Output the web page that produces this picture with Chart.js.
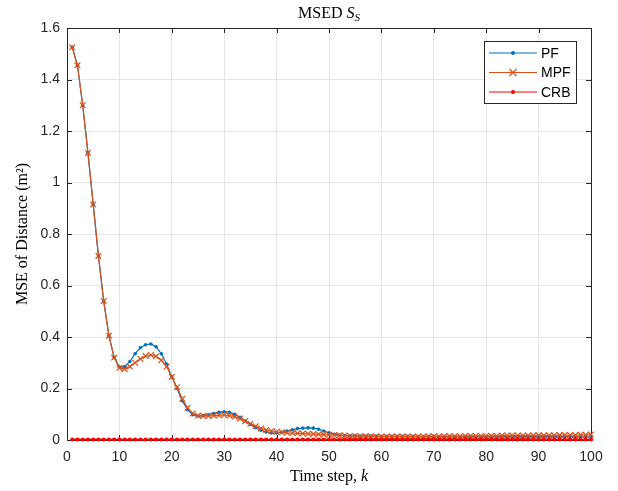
<!DOCTYPE html>
<html>
<head>
<meta charset="utf-8">
<script src="https://cdn.jsdelivr.net/npm/chart.js@4/dist/chart.umd.min.js"></script>
<style>
    html, body { margin: 0; padding: 0; background: #fff; }
    #wrap { width: 618px; height: 491px; }
</style>
</head>
<body>
<div id="wrap"><canvas id="myChart" width="618" height="491"></canvas></div>
<script>
// data
const steps = [];
for (let k = 1; k <= 100; k++) steps.push(k);

const pfValues = [
    1.525, 1.455, 1.300, 1.115, 0.915, 0.715, 0.540, 0.405, 0.320, 0.283,
    0.285, 0.305, 0.335, 0.358, 0.370, 0.373, 0.362, 0.335, 0.295, 0.245,
    0.200, 0.152, 0.118, 0.098, 0.093, 0.095, 0.098, 0.103, 0.108, 0.110,
    0.108, 0.100, 0.088, 0.074, 0.060, 0.048, 0.038, 0.031, 0.027, 0.027,
    0.030, 0.035, 0.040, 0.044, 0.046, 0.047, 0.046, 0.042, 0.035, 0.028,
    0.022, 0.019, 0.017, 0.016, 0.016, 0.015, 0.015, 0.015, 0.015, 0.014,
    0.014, 0.014, 0.014, 0.014, 0.014, 0.014, 0.013, 0.013, 0.013, 0.013,
    0.013, 0.013, 0.013, 0.013, 0.013, 0.013, 0.013, 0.013, 0.013, 0.013,
    0.013, 0.013, 0.013, 0.013, 0.013, 0.013, 0.013, 0.013, 0.013, 0.013,
    0.013, 0.013, 0.013, 0.013, 0.013, 0.013, 0.013, 0.013, 0.013, 0.013
];
const mpfValues = [
    1.525, 1.455, 1.300, 1.115, 0.915, 0.715, 0.540, 0.405, 0.320, 0.280,
    0.275, 0.285, 0.300, 0.315, 0.326, 0.330, 0.325, 0.310, 0.285, 0.245,
    0.205, 0.160, 0.125, 0.103, 0.095, 0.093, 0.093, 0.095, 0.096, 0.097,
    0.095, 0.090, 0.083, 0.073, 0.063, 0.053, 0.045, 0.039, 0.035, 0.032,
    0.030, 0.028, 0.027, 0.026, 0.025, 0.024, 0.023, 0.022, 0.021, 0.020,
    0.019, 0.018, 0.017, 0.016, 0.016, 0.015, 0.015, 0.015, 0.014, 0.014,
    0.014, 0.014, 0.014, 0.014, 0.014, 0.014, 0.014, 0.014, 0.015, 0.015,
    0.015, 0.015, 0.015, 0.015, 0.015, 0.016, 0.016, 0.016, 0.016, 0.016,
    0.016, 0.016, 0.017, 0.017, 0.017, 0.017, 0.017, 0.017, 0.018, 0.018,
    0.018, 0.018, 0.018, 0.019, 0.019, 0.019, 0.019, 0.020, 0.020, 0.021
];
const crbValues = [
    0.002, 0.002, 0.002, 0.002, 0.002, 0.002, 0.002, 0.002, 0.002, 0.002,
    0.002, 0.002, 0.002, 0.002, 0.002, 0.002, 0.002, 0.002, 0.002, 0.002,
    0.002, 0.002, 0.002, 0.002, 0.002, 0.002, 0.002, 0.002, 0.002, 0.002,
    0.002, 0.002, 0.002, 0.002, 0.002, 0.002, 0.002, 0.002, 0.002, 0.002,
    0.002, 0.002, 0.002, 0.002, 0.002, 0.002, 0.002, 0.002, 0.002, 0.002,
    0.002, 0.002, 0.002, 0.002, 0.002, 0.002, 0.002, 0.002, 0.002, 0.002,
    0.002, 0.002, 0.002, 0.002, 0.002, 0.002, 0.002, 0.002, 0.002, 0.002,
    0.002, 0.002, 0.002, 0.002, 0.002, 0.002, 0.002, 0.002, 0.002, 0.002,
    0.002, 0.002, 0.002, 0.002, 0.002, 0.002, 0.002, 0.002, 0.002, 0.002,
    0.002, 0.002, 0.002, 0.002, 0.002, 0.002, 0.002, 0.002, 0.002, 0.002
];
const xTicks = [0, 10, 20, 30, 40, 50, 60, 70, 80, 90, 100];
const yTicks = [0, 0.2, 0.4, 0.6, 0.8, 1, 1.2, 1.4, 1.6];
const seriesNames = ['PF', 'MPF', 'CRB'];

const AXIS = '#262626';
const SERIF = '"Liberation Serif", "DejaVu Serif", serif';
const SANS = '"Liberation Sans", Arial, sans-serif';

function pts(values) {
    return values.map((v, i) => ({ x: steps[i], y: v }));
}

// box, inner ticks, titles and the MATLAB-style legend
const matlabFrame = {
    id: 'matlabFrame',
    beforeDatasetsDraw(chart) {
        // axes box under the data, like MATLAB's red line sitting on the axis
        const ctx = chart.ctx;
        const a = chart.chartArea;
        const xs = chart.scales.x, ys = chart.scales.y;
        ctx.save();
        ctx.strokeStyle = AXIS;
        ctx.lineWidth = 1;
        ctx.beginPath();
        xTicks.forEach(t => {
            const px = Math.round(xs.getPixelForValue(t)) + 0.5;
            ctx.moveTo(px, a.bottom); ctx.lineTo(px, a.bottom - 5);
            ctx.moveTo(px, a.top); ctx.lineTo(px, a.top + 5);
        });
        yTicks.forEach(t => {
            const py = Math.round(ys.getPixelForValue(t)) + 0.5;
            ctx.moveTo(a.left, py); ctx.lineTo(a.left + 5, py);
            ctx.moveTo(a.right, py); ctx.lineTo(a.right - 5, py);
        });
        ctx.stroke();
        ctx.strokeRect(Math.round(a.left) + 0.5, Math.round(a.top) + 0.5,
            Math.round(a.right - a.left), Math.round(a.bottom - a.top));
        ctx.restore();
    },
    afterDraw(chart) {
        const ctx = chart.ctx;
        const a = chart.chartArea;
        ctx.save();

        // title: MSED S_S
        ctx.fillStyle = '#000';
        ctx.textBaseline = 'alphabetic';
        ctx.textAlign = 'left';
        const cx = (a.left + a.right) / 2;
        const t1 = 'MSED ';
        ctx.font = '16px ' + SERIF;
        const w1 = ctx.measureText(t1).width;
        ctx.font = 'italic 16px ' + SERIF;
        const w2 = ctx.measureText('S').width;
        ctx.font = 'italic 11px ' + SERIF;
        const w3 = ctx.measureText('S').width;
        let x0 = cx - (w1 + w2 + w3) / 2;
        ctx.font = '16px ' + SERIF;
        ctx.fillText(t1, x0, 18);
        ctx.font = 'italic 16px ' + SERIF;
        ctx.fillText('S', x0 + w1, 18);
        ctx.font = 'italic 11px ' + SERIF;
        ctx.fillText('S', x0 + w1 + w2, 21);

        // x axis title
        ctx.font = '16px ' + SERIF;
        const xa = 'Time step, ';
        const wxa = ctx.measureText(xa).width;
        ctx.font = 'italic 16px ' + SERIF;
        const wk = ctx.measureText('k').width;
        x0 = cx - (wxa + wk) / 2;
        ctx.font = '16px ' + SERIF;
        ctx.fillText(xa, x0, 481);
        ctx.font = 'italic 16px ' + SERIF;
        ctx.fillText('k', x0 + wxa, 481);

        // y axis title
        ctx.save();
        ctx.translate(27, (a.top + a.bottom) / 2);
        ctx.rotate(-Math.PI / 2);
        ctx.textAlign = 'center';
        ctx.font = '16px ' + SERIF;
        ctx.fillText('MSE of Distance (m\u00B2)', 0, 0);
        ctx.restore();

        // legend
        const lx = 484.5, ly = 41.5, lw = 92, lh = 62;
        ctx.fillStyle = '#fff';
        ctx.fillRect(lx, ly, lw, lh);
        ctx.strokeStyle = AXIS;
        ctx.lineWidth = 1;
        ctx.strokeRect(lx, ly, lw, lh);
        const rows = [53, 72.5, 92];
        chart.data.datasets.forEach((ds, i) => {
            const y = rows[i];
            ctx.strokeStyle = ds.borderColor;
            ctx.lineWidth = 1.2;
            ctx.beginPath();
            ctx.moveTo(489, y); ctx.lineTo(537, y);
            ctx.stroke();
            const mx = 513;
            if (ds.pointStyle === 'crossRot') {
                ctx.beginPath();
                ctx.moveTo(mx - 3.5, y - 3.5); ctx.lineTo(mx + 3.5, y + 3.5);
                ctx.moveTo(mx - 3.5, y + 3.5); ctx.lineTo(mx + 3.5, y - 3.5);
                ctx.stroke();
            } else {
                ctx.fillStyle = ds.borderColor;
                ctx.beginPath();
                ctx.arc(mx, y, 2, 0, Math.PI * 2);
                ctx.fill();
            }
            ctx.fillStyle = '#000';
            ctx.font = '14px ' + SANS;
            ctx.textAlign = 'left';
            ctx.textBaseline = 'middle';
            ctx.fillText(ds.label, 541, y + 1);
        });
        ctx.restore();
    }
};

const ctx = document.getElementById('myChart').getContext('2d');
const myChart = new Chart(ctx, {
    type: 'line',
    data: {
        datasets: [{
            label: seriesNames[0],
            data: pts(pfValues),
            borderColor: '#0072BD',
            backgroundColor: '#0072BD',
            borderWidth: 1.2,
            pointStyle: 'circle',
            pointRadius: 1.8,
            pointBorderWidth: 0,
            clip: false,
            order: 3
        }, {
            label: seriesNames[1],
            data: pts(mpfValues),
            borderColor: '#D95319',
            backgroundColor: '#D95319',
            borderWidth: 1.2,
            pointStyle: 'crossRot',
            pointRadius: 4,
            pointBorderWidth: 1.2,
            clip: false,
            order: 2
        }, {
            label: seriesNames[2],
            data: pts(crbValues),
            borderColor: '#FF0000',
            backgroundColor: '#FF0000',
            borderWidth: 1.6,
            pointStyle: 'circle',
            pointRadius: 2.1,
            pointBorderWidth: 0,
            clip: false,
            order: 1
        }]
    },
    options: {
        responsive: false,
        animation: false,
        layout: { padding: { left: 0, right: 27, top: 28, bottom: 0 } },
        plugins: {
            legend: { display: false },
            tooltip: { enabled: false },
            title: { display: false }
        },
        scales: {
            x: {
                type: 'linear',
                min: 0,
                max: 100,
                afterFit: s => { s.height = 51; },
                afterBuildTicks: s => { s.ticks = xTicks.map(v => ({ value: v })); },
                grid: { color: '#e6e6e6', lineWidth: 1, drawTicks: false },
                border: { display: false },
                ticks: {
                    padding: 9,
                    color: AXIS,
                    font: { family: SANS, size: 14 },
                    maxRotation: 0
                }
            },
            y: {
                type: 'linear',
                min: 0,
                max: 1.6,
                afterFit: s => { s.width = 67; },
                afterBuildTicks: s => { s.ticks = yTicks.map(v => ({ value: v })); },
                grid: { color: '#e6e6e6', lineWidth: 1, drawTicks: false },
                border: { display: false },
                ticks: {
                    padding: 7,
                    color: AXIS,
                    font: { family: SANS, size: 14 },
                    callback: v => String(v)
                }
            }
        }
    },
    plugins: [matlabFrame]
});
</script>
</body>
</html>
